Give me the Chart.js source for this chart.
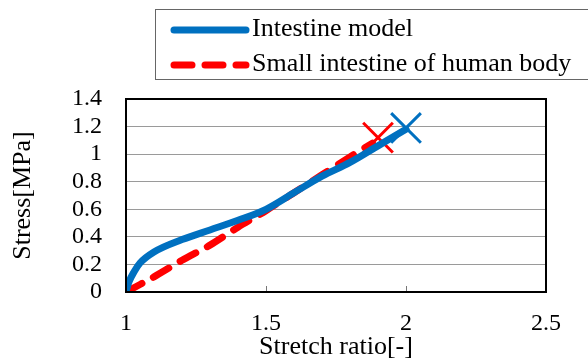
<!DOCTYPE html>
<html>
<head>
<meta charset="utf-8">
<script src="https://cdn.jsdelivr.net/npm/chart.js@4"></script>
<style>
  html, body { margin: 0; padding: 0; background: #fff; }
  #wrap { position: relative; width: 588px; height: 363px; }
  #legend {
    position: absolute; left: 155px; top: 9px; width: 450px; height: 71px;
    border: 1px solid #666; box-sizing: border-box;
    font-family: "Liberation Serif", "Times New Roman", serif; font-size: 26px; color: #000;
  }
  .row { position: absolute; left: 14px; height: 34px; line-height: 34px; white-space: nowrap; }
  .row svg { vertical-align: middle; margin-right: 2px; }
</style>
</head>
<body>
<div id="wrap">
  <canvas id="c" width="588" height="363"></canvas>
  <div id="legend">
    <div class="row" style="top:1px">
      <svg width="80" height="10"><line x1="4" y1="5" x2="76" y2="5" stroke="#0070C0" stroke-width="7" stroke-linecap="round"/></svg>Intestine model
    </div>
    <div class="row" style="top:36px">
      <svg width="80" height="10"><line x1="4" y1="5" x2="76" y2="5" stroke="#FF0000" stroke-width="7" stroke-linecap="round" stroke-dasharray="18 13"/></svg>Small intestine of human body
    </div>
  </div>
</div>
<script>
const modelStretch = [1.0, 1.01, 1.03, 1.05, 1.1, 1.2, 1.3, 1.4, 1.5, 1.6, 1.7, 1.8, 1.9, 2.0];
const modelStress  = [0, 0.07, 0.15, 0.21, 0.29, 0.38, 0.45, 0.52, 0.6, 0.72, 0.84, 0.94, 1.06, 1.18];

const humanStretch = [1.0, 1.1, 1.2, 1.3, 1.4, 1.5, 1.6, 1.7, 1.8, 1.88];
const humanStress  = [0, 0.11, 0.23, 0.34, 0.47, 0.59, 0.72, 0.85, 0.98, 1.08];

const modelBreak = [2.0, 1.19];
const humanBreak = [1.9, 1.12];

const xTicks = [1, 1.5, 2, 2.5];

const FONT = "'Liberation Serif', 'Times New Roman', serif";

function pts(xs, ys) {
  return xs.map((x, i) => ({ x: x, y: ys[i] }));
}

const frame = {
  id: "frame",
  afterDraw(chart) {
    const { ctx, chartArea: a, scales } = chart;
    ctx.save();
    // small inward tick marks on x axis
    ctx.strokeStyle = "#777";
    ctx.lineWidth = 1;
    xTicks.slice(1, -1).forEach(v => {
      const px = Math.round(scales.x.getPixelForValue(v)) + 0.5;
      ctx.beginPath();
      ctx.moveTo(px, a.bottom);
      ctx.lineTo(px, a.bottom - 6);
      ctx.stroke();
    });
    ctx.strokeStyle = "#000";
    ctx.lineWidth = 2;
    ctx.strokeRect(a.left, a.top, a.right - a.left, a.bottom - a.top);
    ctx.restore();
  }
};

new Chart(document.getElementById("c"), {
  type: "scatter",
  data: {
    datasets: [
      {
        label: "Intestine model",
        data: pts(modelStretch, modelStress),
        showLine: true,
        borderColor: "#0070C0",
        borderWidth: 7,
        pointRadius: 0,
        cubicInterpolationMode: "monotone",
        borderCapStyle: "round"
      },
      {
        label: "Small intestine of human body",
        data: pts(humanStretch, humanStress),
        showLine: true,
        borderColor: "#FF0000",
        borderWidth: 7,
        borderDash: [18, 13],
        borderCapStyle: "round",
        pointRadius: 0,
        tension: 0.3
      },
      {
        label: "model break",
        data: [{ x: modelBreak[0], y: modelBreak[1] }],
        pointStyle: "crossRot",
        pointRadius: 21,
        pointBorderWidth: 3,
        borderColor: "#0070C0"
      },
      {
        label: "human break",
        data: [{ x: humanBreak[0], y: humanBreak[1] }],
        pointStyle: "crossRot",
        pointRadius: 21,
        pointBorderWidth: 3,
        borderColor: "#FF0000"
      }
    ]
  },
  options: {
    responsive: false,
    animation: false,
    layout: { padding: { top: 99, right: 42, left: 0, bottom: 0 } },
    plugins: { legend: { display: false }, tooltip: { enabled: false } },
    scales: {
      x: {
        type: "linear",
        min: 1, max: 2.5,
        afterBuildTicks: s => { s.ticks = xTicks.map(v => ({ value: v })); },
        afterFit: s => { s.height = 71; },
        grid: { display: false, drawTicks: false },
        border: { display: false },
        ticks: {
          padding: 17, color: "#000", font: { family: FONT, size: 24 }, maxRotation: 0,
          callback: v => String(v)
        },
        title: { display: true, text: "Stretch ratio[-]", color: "#000", font: { family: FONT, size: 26 }, padding: { top: 0, bottom: 0 } }
      },
      y: {
        min: 0, max: 1.4,
        afterFit: s => { s.width = 126; },
        grid: { color: "#9a9a9a", lineWidth: 1, drawTicks: false },
        border: { display: false },
        ticks: {
          stepSize: 0.2, autoSkip: false, padding: 24, color: "#000", font: { family: FONT, size: 24 },
          callback: v => String(Math.round(v * 10) / 10)
        },
        title: { display: true, text: "Stress[MPa]", color: "#000", font: { family: FONT, size: 26 }, padding: { top: 8, bottom: 0 } }
      }
    }
  },
  plugins: [frame]
});
</script>
</body>
</html>
